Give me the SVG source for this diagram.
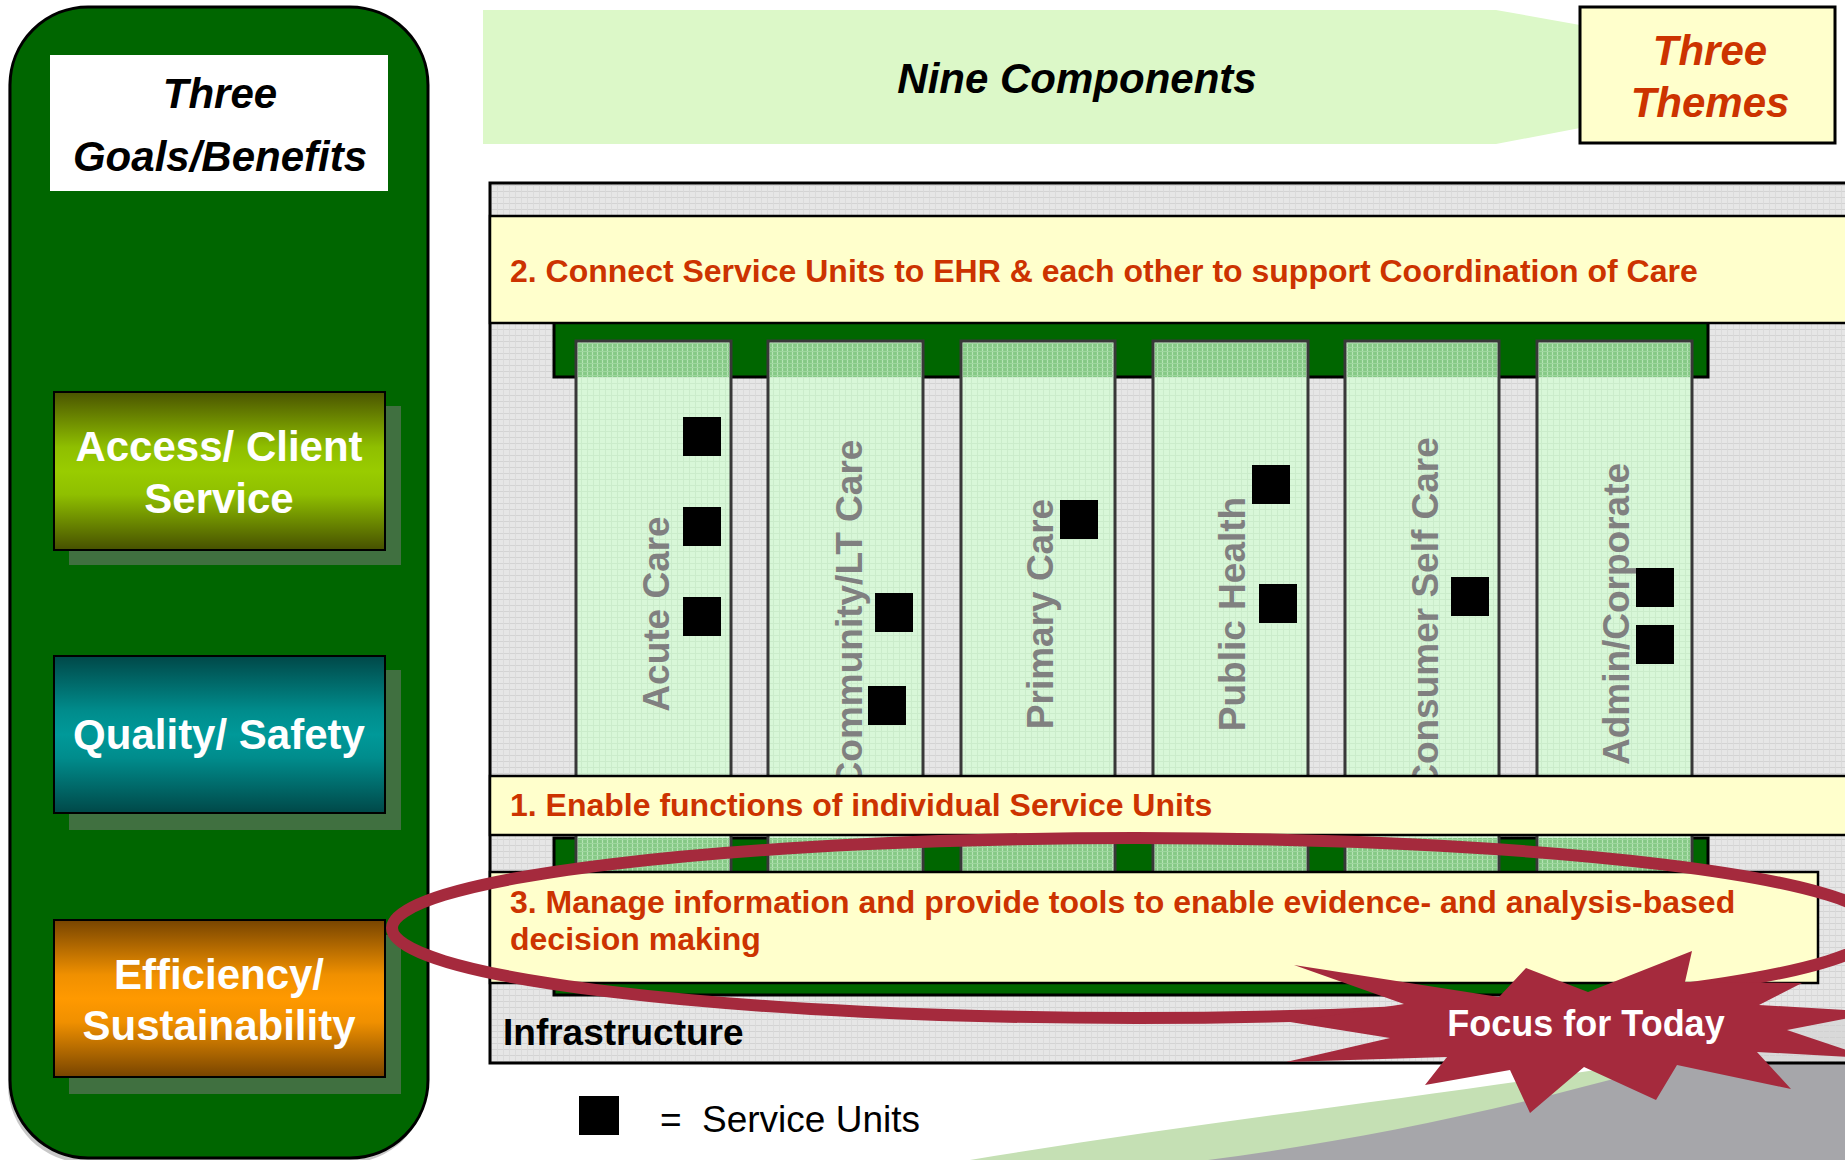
<svg xmlns="http://www.w3.org/2000/svg" width="1845" height="1160" viewBox="0 0 1845 1160">
<defs>
<style>
.f{font-family:"Liberation Sans",Arial,sans-serif}
.goal{font-family:"Liberation Sans",Arial,sans-serif;font-weight:bold;font-size:42px;fill:#fff;text-anchor:middle}
.theme{font-family:"Liberation Sans",Arial,sans-serif;font-weight:bold;font-size:32px;fill:#CC3300}
.col{font-family:"Liberation Sans",Arial,sans-serif;font-weight:bold;font-size:37px;fill:#808080;text-anchor:middle}
.su{fill:#000}
.colbox{fill:url(#colpat);stroke:#383838;stroke-width:3}
.colhat{fill:url(#hatpat)}
.band{fill:#FFFFCC;stroke:#000;stroke-width:2.5}
</style>
<pattern id="gridpat" width="6" height="6" patternUnits="userSpaceOnUse">
<rect width="6" height="6" fill="#e2e2e2" fill-opacity="0.85"/>
<path d="M0 5.5H6" stroke="#cfcfcf" stroke-opacity="0.85" stroke-width="1"/>
<path d="M5.5 0V6" stroke="#d8d8d8" stroke-opacity="0.85" stroke-width="1"/>
</pattern>
<pattern id="colpat" width="6" height="6" patternUnits="userSpaceOnUse">
<rect width="6" height="6" fill="#d8f7d8"/>
<path d="M0 5.5H6M5.5 0V6" stroke="#cbeccb" stroke-width="1"/>
</pattern>
<pattern id="hatpat" width="5" height="4" patternUnits="userSpaceOnUse">
<rect width="5" height="4" fill="#86c986"/>
<path d="M2.5 0V4" stroke="#b4e4b4" stroke-width="1.2"/>
<path d="M0 3.5H5" stroke="#9ed69e" stroke-width="1"/>
</pattern>
<linearGradient id="gAccess" x1="0" y1="0" x2="0" y2="1">
<stop offset="0" stop-color="#4a5400"/><stop offset="0.35" stop-color="#8fbf00"/><stop offset="0.5" stop-color="#99cc00"/><stop offset="0.65" stop-color="#8fbf00"/><stop offset="1" stop-color="#465000"/>
</linearGradient>
<linearGradient id="gQuality" x1="0" y1="0" x2="0" y2="1">
<stop offset="0" stop-color="#004848"/><stop offset="0.35" stop-color="#008c8c"/><stop offset="0.5" stop-color="#009999"/><stop offset="0.65" stop-color="#008c8c"/><stop offset="1" stop-color="#004848"/>
</linearGradient>
<linearGradient id="gEff" x1="0" y1="0" x2="0" y2="1">
<stop offset="0" stop-color="#774400"/><stop offset="0.35" stop-color="#f09000"/><stop offset="0.5" stop-color="#ff9900"/><stop offset="0.65" stop-color="#f09000"/><stop offset="1" stop-color="#774400"/>
</linearGradient>
</defs>

<rect width="1845" height="1160" fill="#fff"/>

<g id="swoosh">
<path d="M970 1160 C1300 1105 1650 1075 1845 1020 L1845 1160 Z" fill="#C5E0B4"/>
<path d="M1208 1160 C1400 1135 1600 1090 1845 1010 L1845 1160 Z" fill="#A6A6AA"/>
</g>

<g id="nine-components">
<polygon points="483,10 1496,10 1580,25 1580,128 1496,144 483,144" fill="#DCF8C8"/>
<text class="f" x="1077" y="93" font-size="42" font-weight="bold" font-style="italic" text-anchor="middle" fill="#000">Nine Components</text>
</g>

<g id="three-themes">
<rect x="1580" y="7" width="255" height="136" fill="#FFFFCC" stroke="#000" stroke-width="3"/>
<text class="f" x="1710" y="65" font-size="42" font-weight="bold" font-style="italic" text-anchor="middle" fill="#CC3300">Three</text>
<text class="f" x="1710" y="117" font-size="42" font-weight="bold" font-style="italic" text-anchor="middle" fill="#CC3300">Themes</text>
</g>

<g id="infrastructure">
<rect x="490" y="183" width="1400" height="880" fill="url(#gridpat)" stroke="#000" stroke-width="3"/>
<text class="f" x="503" y="1045" font-size="37" font-weight="bold" fill="#000">Infrastructure</text>
</g>

<g id="green-bars">
<rect x="554" y="838" width="1154" height="157" fill="#006600" stroke="#000" stroke-width="3"/>
<rect x="554" y="316" width="1154" height="61" fill="#006600" stroke="#000" stroke-width="3"/>
</g>

<g id="col-acute">
<rect class="colbox" x="576" y="341" width="155" height="570"/>
<rect class="colhat" x="578" y="343" width="151" height="34"/>
<rect class="colhat" x="578" y="838" width="151" height="34"/>
<text class="col" transform="translate(669,614) rotate(-90)">Acute Care</text>
<rect class="su" x="683" y="417" width="38" height="39"/>
<rect class="su" x="683" y="507" width="38" height="39"/>
<rect class="su" x="683" y="597" width="38" height="39"/>
</g>
<g id="col-community">
<rect class="colbox" x="768" y="341" width="155" height="570"/>
<rect class="colhat" x="770" y="343" width="151" height="34"/>
<rect class="colhat" x="770" y="838" width="151" height="34"/>
<text class="col" transform="translate(862,614) rotate(-90)">Community/LT Care</text>
<rect class="su" x="875" y="593" width="38" height="39"/>
<rect class="su" x="868" y="686" width="38" height="39"/>
</g>
<g id="col-primary">
<rect class="colbox" x="961" y="341" width="154" height="570"/>
<rect class="colhat" x="963" y="343" width="150" height="34"/>
<rect class="colhat" x="963" y="838" width="150" height="34"/>
<text class="col" transform="translate(1053,614) rotate(-90)">Primary Care</text>
<rect class="su" x="1060" y="500" width="38" height="39"/>
</g>
<g id="col-public-health">
<rect class="colbox" x="1153" y="341" width="155" height="570"/>
<rect class="colhat" x="1155" y="343" width="151" height="34"/>
<rect class="colhat" x="1155" y="838" width="151" height="34"/>
<text class="col" transform="translate(1245,614) rotate(-90)">Public Health</text>
<rect class="su" x="1252" y="465" width="38" height="39"/>
<rect class="su" x="1259" y="584" width="38" height="39"/>
</g>
<g id="col-consumer">
<rect class="colbox" x="1345" y="341" width="154" height="570"/>
<rect class="colhat" x="1347" y="343" width="150" height="34"/>
<rect class="colhat" x="1347" y="838" width="150" height="34"/>
<text class="col" transform="translate(1438,614) rotate(-90)">Consumer Self Care</text>
<rect class="su" x="1451" y="577" width="38" height="39"/>
</g>
<g id="col-admin">
<rect class="colbox" x="1537" y="341" width="155" height="570"/>
<rect class="colhat" x="1539" y="343" width="151" height="34"/>
<rect class="colhat" x="1539" y="838" width="151" height="34"/>
<text class="col" transform="translate(1629,614) rotate(-90)">Admin/Corporate</text>
<rect class="su" x="1636" y="568" width="38" height="39"/>
<rect class="su" x="1636" y="625" width="38" height="39"/>
</g>

<g id="theme-2">
<rect class="band" x="490" y="216" width="1400" height="107"/>
<text class="theme" x="510" y="282">2. Connect Service Units to EHR &amp; each other to support Coordination of Care</text>
</g>
<g id="theme-1">
<rect class="band" x="490" y="776" width="1400" height="59"/>
<text class="theme" x="510" y="816">1. Enable functions of individual Service Units</text>
</g>
<g id="theme-3">
<rect class="band" x="490" y="872" width="1328" height="111"/>
<text class="theme" x="510" y="913">3. Manage information and provide tools to enable evidence- and analysis-based</text>
<text class="theme" x="510" y="950">decision making</text>
</g>

<g id="legend">
<rect class="su" x="579" y="1096" width="40" height="39"/>
<text class="f" x="660" y="1132" font-size="37" fill="#000">=<tspan x="702">Service Units</tspan></text>
</g>

<g id="goals-panel">
<rect x="8" y="12" width="418" height="1151" rx="78" ry="78" fill="#c8c8c8"/>
<rect x="10" y="7" width="418" height="1151" rx="78" ry="78" fill="#006600" stroke="#000" stroke-width="3"/>
<rect x="50" y="55" width="338" height="136" fill="#fff"/>
<text class="f" x="220" y="108" font-size="42" font-weight="bold" font-style="italic" text-anchor="middle" fill="#000">Three</text>
<text class="f" x="220" y="171" font-size="42" font-weight="bold" font-style="italic" text-anchor="middle" fill="#000">Goals/Benefits</text>
</g>
<g id="goal-access">
<rect x="69" y="406" width="332" height="159" fill="#407040"/>
<rect x="54" y="392" width="331" height="158" fill="url(#gAccess)" stroke="#000" stroke-width="2"/>
<text class="goal" x="219" y="461">Access/ Client</text>
<text class="goal" x="219" y="513">Service</text>
</g>
<g id="goal-quality">
<rect x="69" y="670" width="332" height="160" fill="#407040"/>
<rect x="54" y="656" width="331" height="157" fill="url(#gQuality)" stroke="#000" stroke-width="2"/>
<text class="goal" x="219" y="749">Quality/ Safety</text>
</g>
<g id="goal-efficiency">
<rect x="69" y="935" width="332" height="159" fill="#407040"/>
<rect x="54" y="920" width="331" height="157" fill="url(#gEff)" stroke="#000" stroke-width="2"/>
<text class="goal" x="219" y="989">Efficiency/</text>
<text class="goal" x="219" y="1040">Sustainability</text>
</g>

<g id="focus-highlight">
<ellipse cx="1136" cy="928" rx="744" ry="90" fill="none" stroke="#A52A3D" stroke-width="12"/>
<polygon points="1294,965 1499,997 1526,968 1588,992 1692,951 1685,982 1802,983 1759,1005 1880,1012 1787,1030 1870,1058 1757,1052 1791,1089 1677,1065 1656,1100 1584,1067 1530,1113 1510,1070 1425,1085 1447,1057 1286,1062 1390,1038 1290,1022 1404,1004" fill="#A52A3D"/>
<text class="f" x="1586" y="1036" font-size="36" font-weight="bold" text-anchor="middle" fill="#fff">Focus for Today</text>
</g>
</svg>
